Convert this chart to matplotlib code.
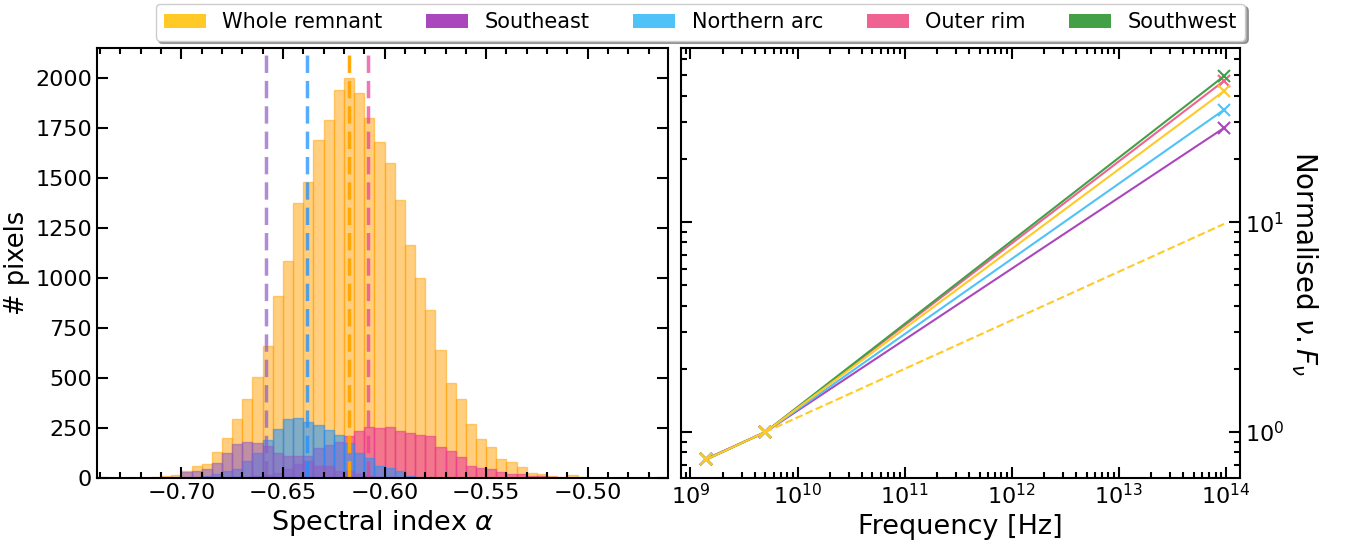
import numpy as np
import matplotlib.pyplot as plt
from matplotlib.patches import Patch
from matplotlib.ticker import MultipleLocator

# histogram bins of the spectral index (width 0.005)
bin_edges = np.round(np.arange(-0.720, -0.4699, 0.005), 3)
bin_centres = 0.5 * (bin_edges[:-1] + bin_edges[1:])

whole_counts = [2, 5, 12, 17, 36, 58, 71, 131, 201, 296,
                396, 506, 661, 908, 1086, 1375, 1480, 1691, 1791, 1941,
                2000, 1926, 1801, 1681, 1576, 1391, 1166, 1001, 841, 641,
                476, 396, 271, 196, 156, 96, 81, 56, 27, 21,
                9, 5, 15, 4, 2, 1, 0, 0, 0, 0]
southeast_counts = [0, 1, 2, 4, 28, 33, 46, 76, 126, 171,
                    181, 176, 161, 125, 108, 108, 83, 58, 58, 36,
                    33, 21, 11, 6, 4, 2, 1, 0, 0, 0,
                    0, 0, 0, 0, 0, 0, 0, 0, 0, 0,
                    0, 0, 0, 0, 0, 0, 0, 0, 0, 0]
northern_counts = [0, 0, 0, 1, 3, 6, 11, 21, 36, 46,
                   86, 126, 190, 246, 295, 300, 281, 265, 241, 215,
                   175, 125, 101, 61, 51, 36, 11, 5, 2, 1,
                   0, 0, 0, 0, 0, 0, 0, 0, 0, 0,
                   0, 0, 0, 0, 0, 0, 0, 0, 0, 0]
outer_counts = [0, 0, 0, 0, 0, 0, 0, 1, 2, 3,
                5, 8, 14, 25, 45, 70, 108, 150, 166, 180,
                211, 236, 256, 251, 256, 236, 226, 216, 211, 156,
                136, 106, 61, 51, 46, 31, 21, 21, 8, 11,
                3, 1, 0, 0, 0, 0, 0, 0, 0, 0]

# median spectral indices
median_alpha = {'whole': -0.6177, 'southeast': -0.6583,
                'northern': -0.638, 'outer': -0.6081}

# SED: frequencies and normalised nu*F_nu
freqs = [1.4e9, 5e9, 9.6e13]
sed_whole = [0.74, 1.0, 42.1]
sed_southeast = [0.745, 1.0, 28.1]
sed_northern = [0.74, 1.0, 34.3]
sed_outer = [0.74, 1.0, 47.1]
sed_southwest = [0.74, 1.0, 49.6]
radio_extrap = [1.0, 9.8]

names = ['Whole remnant', 'Southeast', 'Northern arc', 'Outer rim', 'Southwest']
colors = ['#FFCA28', '#AB47BC', '#4FC3F7', '#F06292', '#43A047']

h_orange = '#FFA000'
h_purple = '#8E5CC4'
h_blue = '#1E90FF'
h_pink = '#EA3C96'

plt.rcParams['axes.linewidth'] = 1.5
plt.rcParams['font.size'] = 16

fig = plt.figure(figsize=(13.63, 5.43), dpi=100)
ax1 = fig.add_axes([0.0712, 0.1197, 0.4189, 0.7919])
ax2 = fig.add_axes([0.4996, 0.1197, 0.4101, 0.7919])

ax1.hist(bin_centres, bins=bin_edges, weights=whole_counts, color=h_orange,
         alpha=0.5, edgecolor=h_orange, linewidth=1)
ax1.hist(bin_centres, bins=bin_edges, weights=outer_counts, color=h_pink,
         alpha=0.6, edgecolor=h_pink, linewidth=1)
ax1.hist(bin_centres, bins=bin_edges, weights=northern_counts, color=h_blue,
         alpha=0.55, edgecolor=h_blue, linewidth=1)
ax1.hist(bin_centres, bins=bin_edges, weights=southeast_counts, color=h_purple,
         alpha=0.55, edgecolor=h_purple, linewidth=1)

dash = (0, (5, 2.3))
ax1.axvline(median_alpha['southeast'], color=h_purple, alpha=0.7, lw=2.5, ls=dash)
ax1.axvline(median_alpha['northern'], color=h_blue, alpha=0.75, lw=2.5, ls=dash)
ax1.axvline(median_alpha['whole'], color='#FFA500', alpha=0.95, lw=2.5, ls=dash)
ax1.axvline(median_alpha['outer'], color=h_pink, alpha=0.7, lw=2.5, ls=dash)

ax1.set_xlim(-0.7415, -0.4605)
ax1.set_ylim(0, 2151)
ax1.xaxis.set_major_locator(MultipleLocator(0.05))
ax1.xaxis.set_minor_locator(MultipleLocator(0.01))
ax1.yaxis.set_major_locator(MultipleLocator(250))
ax1.set_xlabel(r'Spectral index $\alpha$', fontsize=19.5)
ax1.set_ylabel('# pixels', fontsize=18.5)

sed_list = [sed_whole, sed_southeast, sed_northern, sed_outer, sed_southwest]
for i in [1, 2, 3, 4, 0]:
    ax2.plot(freqs, sed_list[i], color=colors[i], marker='x', ms=8, mew=1.5, lw=1.5)
ax2.plot(freqs[1:], radio_extrap, color=colors[0], ls='--', lw=1.5)
ax2.set_xscale('log')
ax2.set_yscale('log')
ax2.set_xlim(8.15e8, 1.35e14)
ax2.set_ylim(0.604, 67.5)
ax2.set_xlabel('Frequency [Hz]', fontsize=19.5)
ax2.set_ylabel(r'Normalised $\nu.F_\nu$', fontsize=20, rotation=270, labelpad=26)
ax2.yaxis.set_label_position('right')

for ax in (ax1, ax2):
    ax.tick_params(which='both', direction='in', top=True, right=True, width=1.5)
    ax.tick_params(which='major', length=8, labelsize=16)
    ax.tick_params(which='minor', length=4)
ax2.tick_params(axis='y', which='both', labelleft=False, labelright=True)

handles = [Patch(facecolor=c, label=n) for c, n in zip(colors, names)]
fig.legend(handles=handles, loc='upper center', bbox_to_anchor=(0.514, 1.012),
           ncol=5, fontsize=15, shadow=True, columnspacing=2.1)

fig.savefig('out.png', dpi=100)
